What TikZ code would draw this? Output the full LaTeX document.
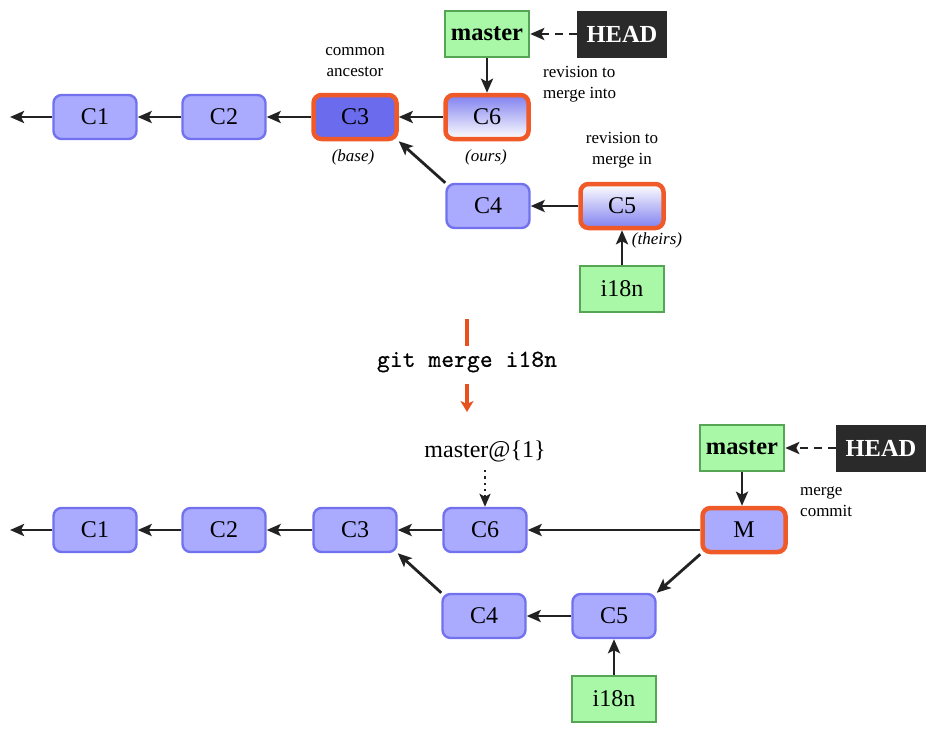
\documentclass[tikz,border=0pt]{standalone}
\usepackage{fontspec}
\setmainfont{Liberation Serif}
\newfontfamily\gmfont{lmmono10-regular.otf}[FakeBold=0.5]
\usetikzlibrary{arrows.meta}
\definecolor{cfill}{HTML}{AAAAFF}
\definecolor{cborder}{HTML}{7272EE}
\definecolor{cdark}{HTML}{6B6BEE}
\definecolor{orng}{HTML}{F05A28}
\definecolor{gfill}{HTML}{A8F8A8}
\definecolor{gborder}{HTML}{55A555}
\definecolor{headc}{HTML}{2A2A2A}
\definecolor{linec}{HTML}{222222}
\definecolor{redarr}{HTML}{E8501E}
\begin{document}
\begin{tikzpicture}[x=1pt,y=-1pt,
  commit/.style={draw=cborder, line width=2.4pt, fill=cfill, rounded corners=8pt,
    minimum width=83pt, minimum height=44pt, inner sep=0pt, font=\fontsize{24}{26}\selectfont},
  hot/.style={draw=orng, line width=4.5pt},
  branch/.style={draw=gborder, line width=2.5pt, fill=gfill, minimum width=84pt,
    minimum height=46pt, inner sep=0pt, font=\fontsize{24}{26}\selectfont},
  headbox/.style={fill=headc, text=white, minimum width=90pt, minimum height=47pt,
    inner sep=0pt, font=\fontsize{24.5}{26}\selectfont\bfseries},
  conn/.style={draw=linec, line width=2.8pt, -{Stealth[length=14pt,width=12pt,inset=3pt]}},
  dashconn/.style={conn, dash pattern=on 8pt off 6pt},
  dotconn/.style={draw=linec, line width=2.4pt, dash pattern=on 2.4pt off 4pt,
    -{Stealth[length=13pt,width=11pt,inset=3pt]}},
  note/.style={font=\fontsize{17}{21}\selectfont, inner sep=0pt},
  role/.style={font=\fontsize{17}{21}\selectfont\itshape, inner sep=0pt},
  redline/.style={draw=redarr, line width=3.5pt},
]
\useasboundingbox (0,0) rectangle (936,731);

% ---------------- top ----------------
\node[commit] (C1a) at (95,117) {C1};
\node[commit] (C2a) at (224,117) {C2};
\node[commit, hot, fill=cdark] (C3a) at (355,117) {C3};
\node[commit, hot, top color=cborder!90, bottom color=white] (C6a) at (487,117) {C6};
\node[commit] (C4a) at (488,206) {C4};
\node[commit, hot, top color=white, bottom color=cborder!90] (C5a) at (622,206) {C5};
\node[branch] (i18a) at (622,289) {i18n};
\node[branch, font=\fontsize{24.5}{26}\selectfont\bfseries] (mastera) at (487,34) {master};
\node[headbox] (HEADa) at (622,34) {HEAD};
\coordinate (enda) at (10,117);

\node[note, align=center] (anc) at (355,62) {common\\ancestor};
\node[note, align=left, anchor=west] (into) at (543,84) {revision to\\merge into};
\node[note, align=center] (mergein) at (622,150) {revision to\\merge in};
\node[role] (base) at (353,157) {(base)};
\node[role] (ours) at (486,157) {(ours)};
\node[role] (theirs) at (657,240) {(theirs)};

\draw[conn] (C1a) -- (enda);
\draw[conn] (C2a) -- (C1a);
\draw[conn] (C3a) -- (C2a);
\draw[conn] (C6a) -- (C3a);
\draw[conn] (C4a.north west) -- (C3a.south east);
\draw[conn] (C5a) -- (C4a);
\draw[conn] (i18a) -- (C5a);
\draw[conn] (mastera) -- (C6a);
\draw[dashconn] (HEADa) -- (mastera);

% ---------------- middle ----------------
\coordinate (r1) at (467,319);
\coordinate (r2) at (467,346);
\node[font=\fontsize{24.5}{26}\selectfont\gmfont, inner sep=0pt] (gm) at (467,362) {git merge i18n};
\coordinate (r3) at (467,384);
\coordinate (r4) at (467,412);
\draw[redline] (r1) -- (r2);
\draw[redline, -{Stealth[length=11pt,width=13pt,inset=3pt]}] (r3) -- (r4);

% ---------------- bottom ----------------
\node[commit] (C1b) at (95,530) {C1};
\node[commit] (C2b) at (224,530) {C2};
\node[commit] (C3b) at (355,530) {C3};
\node[commit] (C6b) at (485,530) {C6};
\node[commit, hot] (Mb) at (744,530) {M};
\node[commit] (C4b) at (484,616) {C4};
\node[commit] (C5b) at (614,616) {C5};
\node[branch] (i18b) at (614,699) {i18n};
\node[branch, font=\fontsize{24.5}{26}\selectfont\bfseries] (masterb) at (742,448) {master};
\node[headbox] (HEADb) at (881,448) {HEAD};
\node[font=\fontsize{24}{26}\selectfont, inner sep=0pt] (m1) at (485,451) {master@\{1\}};
\node[note, align=left, anchor=west] (mc) at (800,502) {merge\\commit};
\coordinate (endb) at (10,530);

\draw[conn] (C1b) -- (endb);
\draw[conn] (C2b) -- (C1b);
\draw[conn] (C3b) -- (C2b);
\draw[conn] (C6b) -- (C3b);
\draw[conn] (Mb) -- (C6b);
\draw[conn] (C4b.north west) -- (C3b.south east);
\draw[conn] (C5b) -- (C4b);
\draw[conn] (Mb.south west) -- (C5b.north east);
\draw[conn] (i18b) -- (C5b);
\draw[conn] (masterb) -- (masterb |- Mb.north);
\draw[dashconn] (HEADb) -- (masterb);
\draw[dotconn, shorten <=8pt] (m1) -- (C6b);
\end{tikzpicture}
\end{document}
